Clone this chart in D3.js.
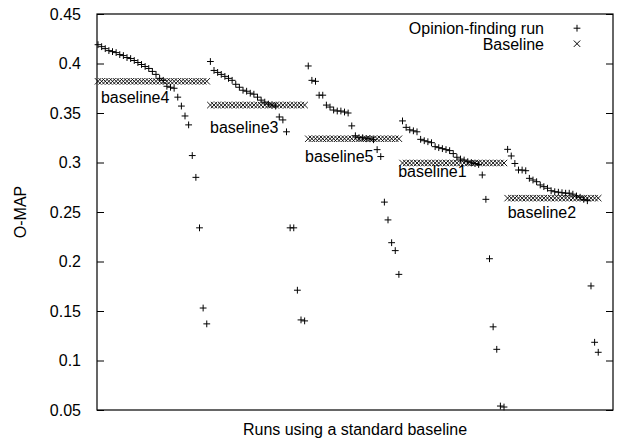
<!DOCTYPE html>
<html>
<head>
<meta charset="utf-8">
<script src="https://cdn.jsdelivr.net/npm/d3@7"></script>
<style>
  body { margin: 0; background: #fff; }
  text { font-family: "Liberation Sans", Arial, Helvetica, sans-serif; }
</style>
</head>
<body>
<div id="svg-container"></div>
<script>
// baselines in the order they appear along the x axis
var baselineNames = ["baseline4", "baseline3", "baseline5", "baseline1", "baseline2"];
var baselineValues = [0.382, 0.358, 0.324, 0.2995, 0.264];

// opinion-finding runs on each baseline, sorted by O-MAP
var runsBaseline4 = [0.419, 0.417, 0.415, 0.413, 0.412, 0.411, 0.409, 0.408, 0.406, 0.405,
  0.403, 0.401, 0.399, 0.397, 0.395, 0.392, 0.389, 0.385, 0.383, 0.377, 0.376, 0.375,
  0.366, 0.357, 0.347, 0.338, 0.307, 0.285, 0.234, 0.153, 0.137];
var runsBaseline3 = [0.402, 0.393, 0.391, 0.389, 0.387, 0.385, 0.383, 0.379, 0.376, 0.373,
  0.372, 0.370, 0.369, 0.366, 0.363, 0.361, 0.359, 0.358, 0.357, 0.346, 0.343, 0.331,
  0.234, 0.234, 0.171, 0.141, 0.140];
var runsBaseline5 = [0.3975, 0.383, 0.382, 0.368, 0.368, 0.358, 0.356, 0.353, 0.352, 0.352,
  0.351, 0.350, 0.337, 0.327, 0.325, 0.325, 0.324, 0.324, 0.323, 0.313, 0.306, 0.260,
  0.242, 0.219, 0.211, 0.187];
var runsBaseline1 = [0.342, 0.3355, 0.333, 0.332, 0.331, 0.3234, 0.322, 0.321, 0.320, 0.316,
  0.315, 0.314, 0.313, 0.312, 0.309, 0.3053, 0.3035, 0.3025, 0.3008, 0.2998, 0.299, 0.298,
  0.2874, 0.2628, 0.2028, 0.134, 0.1113, 0.054, 0.053];
var runsBaseline2 = [0.3133, 0.3066, 0.299, 0.2924, 0.2924, 0.2917, 0.284, 0.2823, 0.2806,
  0.2773, 0.2756, 0.274, 0.2715, 0.2705, 0.270, 0.2695, 0.269, 0.269, 0.268, 0.2662,
  0.2649, 0.2628, 0.2614, 0.1753, 0.1184, 0.1083];
var runGroups = [runsBaseline4, runsBaseline3, runsBaseline5, runsBaseline1, runsBaseline2];

// label anchors in data units: [run index, O-MAP]
var labelAnchors = [[0.8, 0.360], [30.9, 0.330], [57.1, 0.3005], [82.8, 0.285], [113, 0.2436]];

var yTicks = [0.05, 0.1, 0.15, 0.2, 0.25, 0.3, 0.35, 0.4, 0.45];
var yTickLabels = ["0.05", "0.1", "0.15", "0.2", "0.25", "0.3", "0.35", "0.4", "0.45"];
var legendLabels = ["Opinion-finding run", "Baseline"];

(function () {
  var W = 626, H = 439;
  var margin = {left: 97, right: 13, top: 14, bottom: 29};

  // flatten groups into one sequence of runs
  var runs = [], idx = 0;
  runGroups.forEach(function (g, gi) {
    g.forEach(function (v) {
      runs.push({i: idx++, v: v, base: baselineValues[gi]});
    });
  });

  var x = d3.scaleLinear().domain([-0.28, 142.07]).range([margin.left, W - margin.right]);
  var y = d3.scaleLinear().domain([0.05, 0.45]).range([H - margin.bottom, margin.top]);

  var svg = d3.select("#svg-container").append("svg")
    .attr("width", W).attr("height", H);

  function plus(px, py, r) {
    return "M" + (px - r) + "," + py + "H" + (px + r) + "M" + px + "," + (py - r) + "V" + (py + r);
  }
  function cross(px, py, r) {
    return "M" + (px - r) + "," + (py - r) + "L" + (px + r) + "," + (py + r) +
           "M" + (px - r) + "," + (py + r) + "L" + (px + r) + "," + (py - r);
  }

  // axes, ticks pointing inward
  var fmt = function (d) { return yTickLabels[yTicks.indexOf(d)]; };
  svg.append("g")
    .attr("transform", "translate(" + margin.left + ",0)")
    .call(d3.axisLeft(y).tickValues(yTicks).tickFormat(fmt).tickSize(-7).tickSizeOuter(0).tickPadding(16))
    .call(function (g) {
      g.select(".domain").remove();
      g.selectAll("line").attr("stroke", "#000");
      g.selectAll("text").attr("font-size", 16).attr("fill", "#000")
        .attr("font-family", "'Liberation Sans', Arial, Helvetica, sans-serif");
    });
  svg.append("g")
    .attr("transform", "translate(" + (W - margin.right) + ",0)")
    .call(d3.axisRight(y).tickValues(yTicks).tickFormat("").tickSize(-7).tickSizeOuter(0))
    .call(function (g) {
      g.select(".domain").remove();
      g.selectAll("line").attr("stroke", "#000");
    });

  svg.append("rect")
    .attr("x", margin.left).attr("y", margin.top)
    .attr("width", W - margin.left - margin.right)
    .attr("height", H - margin.top - margin.bottom)
    .attr("fill", "none").attr("stroke", "#000").attr("stroke-width", 1.2);

  // baseline markers
  svg.append("g").selectAll("path.base")
    .data(runs).enter().append("path")
    .attr("class", "base")
    .attr("d", function (d) { return cross(x(d.i), y(d.base), 3.2); })
    .attr("stroke", "#000").attr("stroke-width", 0.9).attr("fill", "none");

  // run markers
  svg.append("g").selectAll("path.run")
    .data(runs).enter().append("path")
    .attr("class", "run")
    .attr("d", function (d) { return plus(x(d.i), y(d.v), 3.4); })
    .attr("stroke", "#000").attr("stroke-width", 1).attr("fill", "none");

  // baseline labels
  svg.append("g").selectAll("text")
    .data(baselineNames).enter().append("text")
    .attr("x", function (d, k) { return x(labelAnchors[k][0]); })
    .attr("y", function (d, k) { return y(labelAnchors[k][1]); })
    .attr("font-size", 16)
    .text(function (d) { return d; });

  // legend
  var leg = svg.append("g");
  legendLabels.forEach(function (t, k) {
    var ly = 34 + k * 15.5;
    leg.append("text").attr("x", 544).attr("y", ly)
      .attr("text-anchor", "end").attr("font-size", 16).text(t);
    leg.append("path")
      .attr("d", k === 0 ? plus(577, ly - 5.8, 3.4) : cross(577, ly - 5.8, 3.2))
      .attr("stroke", "#000").attr("stroke-width", 1).attr("fill", "none");
  });

  // axis titles
  svg.append("text")
    .attr("x", (margin.left + W - margin.right) / 2).attr("y", 435)
    .attr("text-anchor", "middle").attr("font-size", 16)
    .text("Runs using a standard baseline");
  svg.append("text")
    .attr("transform", "translate(26," + ((margin.top + H - margin.bottom) / 2) + ") rotate(-90)")
    .attr("text-anchor", "middle").attr("font-size", 16)
    .text("O-MAP");
}());
</script>
</body>
</html>
